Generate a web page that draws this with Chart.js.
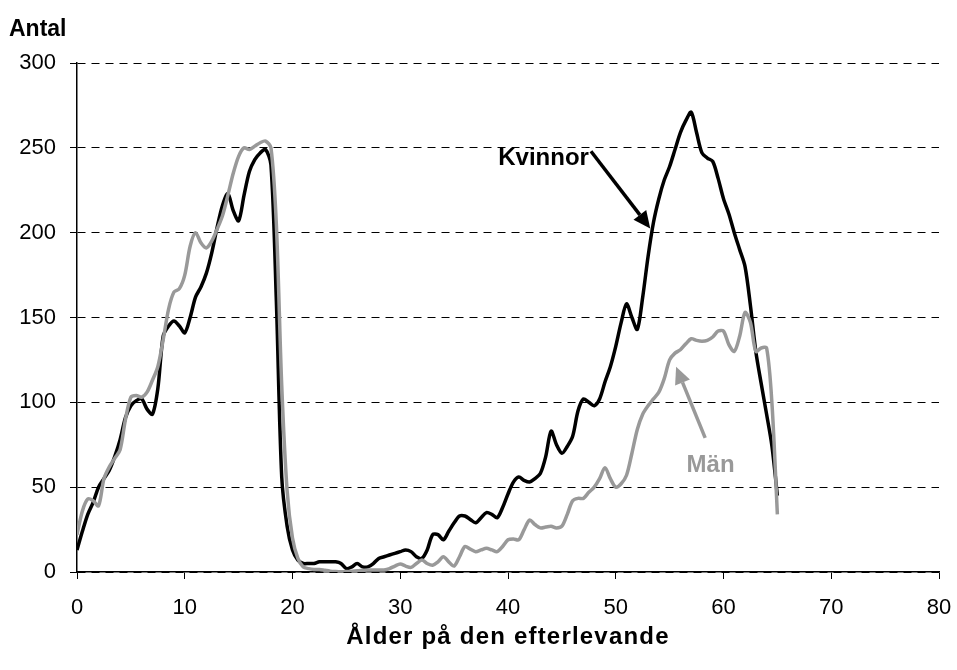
<!DOCTYPE html>
<html>
<head>
<meta charset="utf-8">
<script src="https://cdn.jsdelivr.net/npm/chart.js@4"></script>
<style>
  html, body { margin: 0; padding: 0; background: #fff; }
  #wrap { width: 957px; height: 670px; }
</style>
</head>
<body>
<div id="wrap"><canvas id="chart" width="957" height="670"></canvas></div>
<script>
// age of the surviving partner (x axis)
const ages = [
  0, 0.5, 1, 1.5, 2, 2.5, 3, 3.5, 4, 4.5, 5, 5.5, 6, 6.5, 7, 7.5, 8, 8.5, 9, 9.5,
  10, 10.5, 11, 11.5, 12, 12.5, 13, 13.5, 14, 14.5, 15, 15.5, 16, 16.5, 17, 17.5, 18, 18.5, 19, 19.5,
  20, 20.5, 21, 21.5, 22, 22.5, 23, 23.5, 24, 24.5, 25, 25.5, 26, 26.5, 27, 27.5, 28, 28.5, 29, 29.5,
  30, 30.5, 31, 31.5, 32, 32.5, 33, 33.5, 34, 34.5, 35, 35.5, 36, 36.5, 37, 37.5, 38, 38.5, 39, 39.5,
  40, 40.5, 41, 41.5, 42, 42.5, 43, 43.5, 44, 44.5, 45, 45.5, 46, 46.5, 47, 47.5, 48, 48.5, 49, 49.5,
  50, 50.5, 51, 51.5, 52, 52.5, 53, 53.5, 54, 54.5, 55, 55.5, 56, 56.5, 57, 57.5, 58, 58.5, 59, 59.5,
  60, 60.5, 61, 61.5, 62, 62.5, 63, 63.5, 64, 64.5, 65
];

const kvinnor = [
  13, 24, 34, 41, 50, 55, 60, 68, 78, 91, 98, 101, 102, 96, 93, 108, 139, 145, 148, 145,
  141, 150, 162, 168, 176, 188, 203, 216, 223, 213, 207, 222, 236, 243, 247, 249, 240, 160, 56, 27,
  13, 7, 5, 5, 5, 6, 6, 6, 6, 5, 2, 3, 5, 3, 3, 5, 8, 9, 10, 11,
  12, 13, 12, 9, 8, 13, 22, 22, 19, 24, 29, 33, 33, 31, 29, 32, 35, 34, 32, 38,
  46, 53, 56, 54, 53, 55, 58, 68, 83, 75, 70, 74, 80, 95, 102, 100, 98, 102, 112, 121,
  133, 147, 158, 150, 143, 162, 186, 206, 220, 231, 239, 249, 259, 266, 271, 259, 247, 244, 242, 232,
  220, 211, 200, 190, 180, 157, 130, 111, 93, 74, 45
];

const man = [
  22, 36, 43, 42, 39, 55, 62, 67, 72, 90, 103, 104, 103, 106, 113, 121, 137, 155, 165, 167,
  175, 192, 200, 194, 191, 195, 202, 210, 222, 235, 245, 250, 249, 251, 253, 254, 250, 205, 110, 48,
  20, 8, 3, 2, 1.5, 1.5, 1, 0.5, 0.3, 0.2, 0.3, 0.5, 0.8, 1, 1.2, 1.2, 1.2, 1.2, 2, 3.5,
  4.7, 3.5, 2.7, 5, 7, 5, 4, 6, 9, 6, 3.5, 9, 15, 13.5, 12, 13, 14, 13, 12, 15,
  19, 19.5, 19, 25, 30.6, 28, 26, 26.5, 27, 26, 27, 34, 42, 43.4, 43.4, 47, 50, 55, 61.5, 55,
  50, 52, 57, 70, 84, 93, 98, 102, 106, 114, 125, 129, 131, 134.5, 137.5, 136.5, 136, 136.5, 138.5, 142,
  142, 134, 130, 139, 153, 147, 130, 132, 132, 99, 34
];

const xTicks = [0, 10, 20, 30, 40, 50, 60, 70, 80];
const yTicks = [0, 50, 100, 150, 200, 250, 300];

// label + arrow annotations, in data coordinates
const notes = [
  { text: "Kvinnor", color: "#000000", tx: 43.3, ty: 244, from: [47.7, 248], to: [53.2, 202.5] },
  { text: "Män", color: "#999999", tx: 58.8, ty: 63, from: [58.3, 79], to: [55.6, 121] }
];

const FONT = "'Liberation Sans', Arial, sans-serif";

function arrow(ctx, x1, y1, x2, y2, color) {
  const ang = Math.atan2(y2 - y1, x2 - x1);
  const head = 17, half = 8;
  const bx = x2 - head * Math.cos(ang), by = y2 - head * Math.sin(ang);
  ctx.strokeStyle = color;
  ctx.fillStyle = color;
  ctx.lineWidth = 3.5;
  ctx.beginPath();
  ctx.moveTo(x1, y1);
  ctx.lineTo(bx, by);
  ctx.stroke();
  ctx.beginPath();
  ctx.moveTo(x2, y2);
  ctx.lineTo(bx + half * Math.sin(ang), by - half * Math.cos(ang));
  ctx.lineTo(bx - half * Math.sin(ang), by + half * Math.cos(ang));
  ctx.closePath();
  ctx.fill();
}

const annotations = {
  id: "annotations",
  afterDraw(chart) {
    const ctx = chart.ctx;
    const xs = chart.scales.x, ys = chart.scales.y;
    ctx.save();
    ctx.font = "bold 23px " + FONT;
    ctx.fillStyle = "#000";
    ctx.textAlign = "left";
    ctx.textBaseline = "middle";
    ctx.fillText("Antal", 9, 30);
    // x axis title
    ctx.textAlign = "center";
    ctx.font = "bold 24px " + FONT;
    ctx.letterSpacing = "1.2px";
    ctx.fillText("Ålder på den efterlevande", 508, 637);
    ctx.letterSpacing = "0px";
    ctx.font = "bold 24px " + FONT;
    notes.forEach(n => {
      ctx.fillStyle = n.color;
      ctx.fillText(n.text, xs.getPixelForValue(n.tx), ys.getPixelForValue(n.ty));
      arrow(ctx,
        xs.getPixelForValue(n.from[0]), ys.getPixelForValue(n.from[1]),
        xs.getPixelForValue(n.to[0]), ys.getPixelForValue(n.to[1]), n.color);
    });
    ctx.restore();
  }
};

const toPoints = vals => ages.map((a, i) => ({ x: a, y: vals[i] }));

new Chart(document.getElementById("chart"), {
  type: "line",
  data: {
    datasets: [
      { label: "Män", data: toPoints(man), borderColor: "#999999", borderWidth: 3.5, pointRadius: 0, tension: 0.3 },
      { label: "Kvinnor", data: toPoints(kvinnor), borderColor: "#000000", borderWidth: 3.5, pointRadius: 0, tension: 0.3 }
    ]
  },
  options: {
    responsive: false,
    animation: false,
    layout: { padding: { left: 0, right: 18, top: 63, bottom: 0 } },
    plugins: { legend: { display: false }, tooltip: { enabled: false } },
    scales: {
      x: {
        type: "linear", min: 0, max: 80,
        afterBuildTicks: s => { s.ticks = xTicks.map(v => ({ value: v })); },
        afterFit: s => { s.height = 98; s.paddingRight = 0; s.paddingLeft = 0; },
        grid: { drawOnChartArea: false, drawTicks: true, tickLength: 7, color: "#000", tickColor: "#000" },
        border: { color: "#000", width: 1.5 },
        ticks: { color: "#000", font: { family: FONT, size: 22 }, padding: 16, maxRotation: 0 }
      },
      y: {
        min: 0, max: 300,
        afterBuildTicks: s => { s.ticks = yTicks.map(v => ({ value: v })); },
        afterFit: s => { s.width = 77; s.paddingTop = 0; s.paddingBottom = 0; },
        grid: { color: "#000", lineWidth: 1, tickLength: 7, tickColor: "#000", tickBorderDash: [] },
        border: { color: "#000", width: 1.5, dash: [8, 6] },
        ticks: { color: "#000", font: { family: FONT, size: 22 }, padding: 14 }
      }
    }
  },
  plugins: [annotations]
});
</script>
</body>
</html>
